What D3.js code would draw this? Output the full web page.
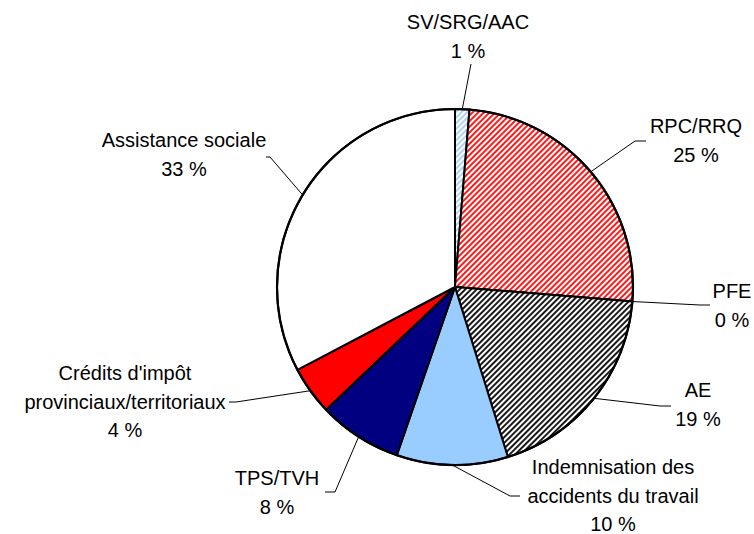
<!DOCTYPE html>
<html>
<head>
<meta charset="utf-8">
<script src="https://cdn.jsdelivr.net/npm/d3@7"></script>
<style>
  body { margin: 0; background: #fff; }
  text { font-family: "Liberation Sans", Arial, Helvetica, sans-serif; font-size: 20px; fill: #000; }
</style>
</head>
<body>
<svg id="pie_chart"></svg>
<script>
// data
var categories = ["SV/SRG/AAC", "RPC/RRQ", "PFE", "AE", "Indemnisation des accidents du travail", "TPS/TVH", "Crédits d'impôt provinciaux/territoriaux", "Assistance sociale"];
var values = [1.3, 25.0, 0.0, 18.9, 10.1, 7.6, 4.4, 32.7];
var labelLines = [
    ["SV/SRG/AAC"],
    ["RPC/RRQ"],
    ["PFE"],
    ["AE"],
    ["Indemnisation des", "accidents du travail"],
    ["TPS/TVH"],
    ["Crédits d'impôt", "provinciaux/territoriaux"],
    ["Assistance sociale"]
];

// label placement (text centre, first baseline, leader elbow, stub end)
var labelLayout = [
    {x: 468, y: 29, ex: 471, ey: 64, sx: 471},
    {x: 696, y: 133, ex: 635, ey: 141, sx: 646},
    {x: 732, y: 298, ex: 700, ey: 305, sx: 710},
    {x: 698, y: 397, ex: 660, ey: 406, sx: 671},
    {x: 613, y: 474, ex: 510, ey: 496, sx: 520},
    {x: 277, y: 485, ex: 335, ey: 492, sx: 325},
    {x: 125, y: 380, ex: 236, ey: 402, sx: 229},
    {x: 184, y: 147, ex: 270, ey: 157, sx: 266}
];

var width = 754, height = 534;
var cx = 455, cy = 287, radius = 178;
var lineHeight = 28.5;

var svg = d3.select("#pie_chart")
    .attr("width", width)
    .attr("height", height);

// hatch patterns
var defs = svg.append("defs");
function hatch(id, color, sw) {
    var p = defs.append("pattern")
        .attr("id", id)
        .attr("patternUnits", "userSpaceOnUse")
        .attr("width", 4)
        .attr("height", 4)
        .attr("patternTransform", "rotate(45)");
    p.append("rect").attr("width", 4).attr("height", 4).attr("fill", "#fff");
    p.append("line")
        .attr("x1", 1).attr("y1", 0)
        .attr("x2", 1).attr("y2", 4)
        .attr("stroke", color)
        .attr("stroke-width", sw);
}
hatch("hatch_blue", "#a6cdf5", 1.8);
hatch("hatch_red", "#ff1a1a", 2);
hatch("hatch_black", "#1a1a1a", 2);

var fills = ["url(#hatch_blue)", "url(#hatch_red)", "#ffffff", "url(#hatch_black)", "#99ccff", "#000080", "#ff0000", "#ffffff"];

var color = d3.scaleOrdinal()
    .domain(categories)
    .range(fills);

var data = categories.map(function(c, i) { return {name: c, value: values[i], i: i}; });

var pie = d3.pie()
    .sort(null)
    .value(function(d) { return d.value; });

var arc = d3.arc()
    .innerRadius(0)
    .outerRadius(radius);

var arcs = pie(data);

var g = svg.append("g")
    .attr("transform", "translate(" + cx + "," + cy + ")");

g.selectAll("path.slice")
    .data(arcs)
    .enter().append("path")
    .attr("class", "slice")
    .attr("d", arc)
    .attr("fill", function(d) { return color(d.data.name); })
    .attr("stroke", "#000")
    .attr("stroke-width", 2)
    .attr("stroke-linejoin", "round");

// outer ring
g.append("circle")
    .attr("r", radius)
    .attr("fill", "none")
    .attr("stroke", "#000")
    .attr("stroke-width", 2.2);

// leader lines
svg.selectAll("polyline.leader")
    .data(arcs)
    .enter().append("polyline")
    .attr("class", "leader")
    .attr("fill", "none")
    .attr("stroke", "#000")
    .attr("stroke-width", 1)
    .attr("points", function(d, i) {
        var a = (d.startAngle + d.endAngle) / 2;
        var px = cx + radius * Math.sin(a);
        var py = cy - radius * Math.cos(a);
        var L = labelLayout[i];
        return [[px, py], [L.ex, L.ey], [L.sx, L.ey]].map(function(p) { return p.join(","); }).join(" ");
    });

// labels
var labels = svg.selectAll("text.label")
    .data(arcs)
    .enter().append("text")
    .attr("class", "label")
    .attr("text-anchor", "middle");

labels.each(function(d, i) {
    var t = d3.select(this);
    var L = labelLayout[i];
    var lines = labelLines[i].concat([Math.round(d.data.value) + " %"]);
    lines.forEach(function(s, k) {
        t.append("tspan")
            .attr("x", L.x)
            .attr("y", L.y + k * lineHeight)
            .text(s);
    });
});
</script>
</body>
</html>
